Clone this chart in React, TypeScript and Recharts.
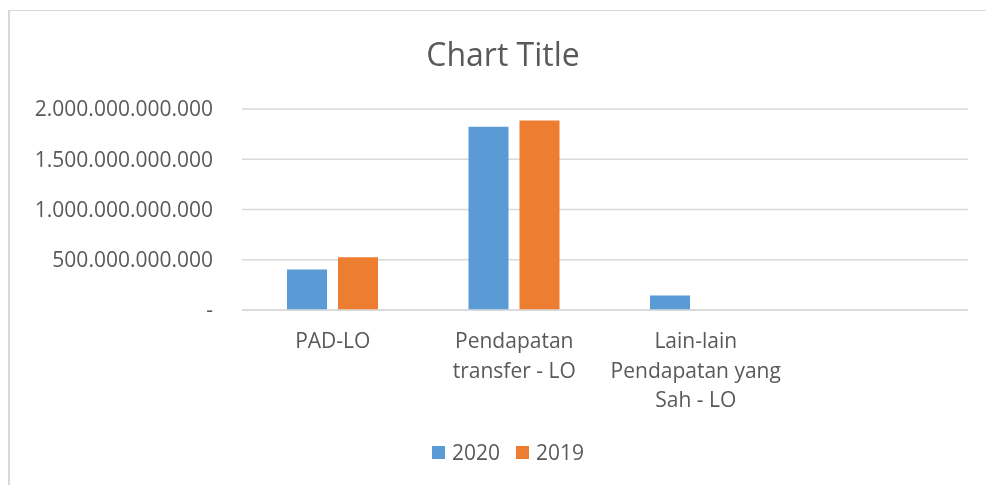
import React from "react";
import {
  Bar,
  BarChart,
  CartesianGrid,
  Legend,
  XAxis,
  YAxis,
} from "recharts";

const categories = [
  "PAD-LO",
  "Pendapatan\ntransfer - LO",
  "Lain-lain\nPendapatan yang\nSah - LO",
  "",
];
const values2020 = [403e9, 1823e9, 144e9, null];
const values2019 = [526e9, 1886e9, 0, null];
const yTicks = [0, 500e9, 1000e9, 1500e9, 2000e9];
const series = [
  { key: "y2020", name: "2020", color: "#5B9BD5" },
  { key: "y2019", name: "2019", color: "#ED7D31" },
];

const FONT = "'Open Sans', sans-serif";
const TEXT = "#595959";

const fmt = (v: number) =>
  v === 0 ? "-" : Math.round(v).toString().replace(/\B(?=(\d{3})+(?!\d))/g, ".");

function CatTick({ x, y, payload }: any) {
  const lines = String(payload.value).split("\n");
  return (
    <text x={x} y={y} textAnchor="middle" fill={TEXT} fontSize={21} fontFamily={FONT}>
      {lines.map((l, i) => (
        <tspan key={i} x={x} dy={i === 0 ? 30 : 29.5}>
          {l}
        </tspan>
      ))}
    </text>
  );
}

function LegendBox() {
  return (
    <div style={{ display: "flex", justifyContent: "center", fontFamily: FONT, fontSize: 21, color: TEXT }}>
      {series.map((s) => (
        <div key={s.key} style={{ display: "flex", alignItems: "center", margin: "0 8px" }}>
          <span style={{ width: 13, height: 13, background: s.color, marginRight: 7 }} />
          <span>{s.name}</span>
        </div>
      ))}
    </div>
  );
}

export default function App() {
  const data = categories.map((c, i) => ({
    name: c,
    y2020: values2020[i],
    y2019: values2019[i],
  }));
  return (
    <div style={{ position: "relative", width: 978, height: 469 }}>
      {/* chart frame, cut by the window on the right and bottom */}
      <div
        style={{
          position: "fixed",
          left: 8,
          top: 10,
          width: 990,
          height: 490,
          borderLeft: "2px solid #d9d9d9",
          borderTop: "1px solid #d9d9d9",
          boxSizing: "border-box",
        }}
      />
      <div
        style={{
          position: "absolute",
          left: 0,
          width: 978,
          paddingLeft: 12,
          boxSizing: "border-box",
          top: 26,
          textAlign: "center",
          fontFamily: FONT,
          fontSize: 32,
          color: TEXT,
          lineHeight: "40px",
        }}
      >
        Chart Title
      </div>
      <BarChart
        width={978}
        height={469}
        data={data}
        margin={{ top: 101, right: 18, bottom: 0, left: 0 }}
        barCategoryGap={45}
        barGap={11}
        style={{ position: "absolute", left: 0, top: 0 }}
      >
        <CartesianGrid vertical={false} stroke="#d9d9d9" strokeWidth={1.5} />
        <XAxis
          dataKey="name"
          height={167}
          tickLine={false}
          axisLine={{ stroke: "#d9d9d9", strokeWidth: 1.5 }}
          tick={<CatTick />}
          interval={0}
        />
        <YAxis
          width={234}
          domain={[0, 2000e9]}
          ticks={yTicks}
          tickFormatter={fmt}
          axisLine={false}
          tickLine={false}
          tickSize={0}
          tickMargin={29}
          tick={{ fill: TEXT, fontSize: 21, fontFamily: FONT }}
        />
        <Legend
          verticalAlign="middle"
          align="center"
          content={<LegendBox />}
          wrapperStyle={{ top: 430, left: 0, width: 978, paddingLeft: 22, boxSizing: "border-box" }}
        />
        {series.map((s) => (
          <Bar key={s.key} dataKey={s.key} name={s.name} fill={s.color} isAnimationActive={false} />
        ))}
      </BarChart>
    </div>
  );
}
